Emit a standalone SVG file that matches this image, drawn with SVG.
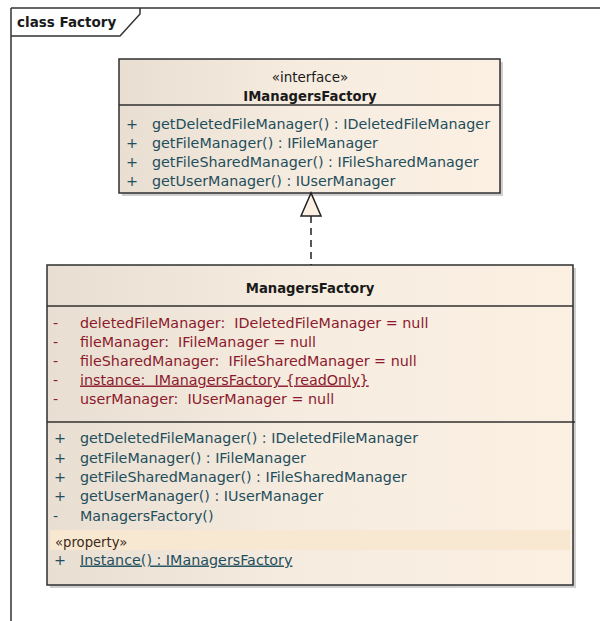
<svg xmlns="http://www.w3.org/2000/svg" width="600" height="621" viewBox="0 0 600 621">
<style>
text { font-family: "DejaVu Sans", "Liberation Sans", sans-serif; }
.frame { fill: none; stroke: #333333; stroke-width: 1.5; }
.box { stroke: #2f2f2f; stroke-width: 1.5; }
.div { stroke: #2f2f2f; stroke-width: 1.5; }
.shadow { fill: #cfcfcf; }
.title { font-size: 13.2px; font-weight: bold; fill: #1a1a1a; text-anchor: middle; }
.stereo { font-size: 13.5px; fill: #1a1a1a; text-anchor: middle; }
.op { font-size: 14.3px; fill: #1f4e5c; }
.attr { font-size: 14.3px; fill: #8c1a2c; }
.prop { font-size: 13.2px; fill: #3a2a1a; }
.conn { stroke: #222; stroke-width: 1.5; fill: none; }
</style>
<defs>
<linearGradient id="fillGrad" x1="0" y1="0" x2="1" y2="0">
<stop offset="0" stop-color="#e8dfd2"/>
<stop offset="0.5" stop-color="#f6ece0"/>
<stop offset="1" stop-color="#fbf0e2"/>
</linearGradient>
</defs>
<rect x="0" y="0" width="600" height="621" fill="#ffffff"/>
<g id="frame">
<line x1="11" y1="8" x2="600" y2="8" class="frame"/>
<line x1="11" y1="8" x2="11" y2="621" class="frame"/>
<path d="M11,36 L120,36 L140,14 L140,8" class="frame"/>
<text x="17" y="27" style="font-size:13.5px;font-weight:bold;fill:#1a1a1a">class Factory</text>
</g>
<g id="IManagersFactory">
<rect x="122" y="62" width="381" height="134" class="shadow"/>
<rect x="119" y="59" width="381" height="134" fill="url(#fillGrad)" class="box"/>
<line x1="119" y1="105" x2="500" y2="105" class="div"/>
<text x="310" y="82" class="stereo">«interface»</text>
<text x="310" y="101" class="title">IManagersFactory</text>
<text x="126" y="128.5" class="op">+</text>
<text x="152" y="128.5" class="op">getDeletedFileManager() : IDeletedFileManager</text>
<text x="126" y="147.8" class="op">+</text>
<text x="152" y="147.8" class="op">getFileManager() : IFileManager</text>
<text x="126" y="167" class="op">+</text>
<text x="152" y="167" class="op">getFileSharedManager() : IFileSharedManager</text>
<text x="126" y="186.3" class="op">+</text>
<text x="152" y="186.3" class="op">getUserManager() : IUserManager</text>
</g>
<g id="ManagersFactory">
<rect x="50" y="268" width="526" height="320" class="shadow"/>
<rect x="47" y="265" width="526" height="320" fill="url(#fillGrad)" class="box"/>
<line x1="47" y1="306" x2="573" y2="306" class="div"/>
<line x1="47" y1="422" x2="575" y2="422" class="div"/>
<text x="310" y="293" class="title">ManagersFactory</text>
<text x="53" y="327.5" class="attr">-</text>
<text x="80" y="327.5" class="attr">deletedFileManager:&#160; IDeletedFileManager = null</text>
<text x="53" y="346.5" class="attr">-</text>
<text x="80" y="346.5" class="attr">fileManager:&#160; IFileManager = null</text>
<text x="53" y="365.5" class="attr">-</text>
<text x="80" y="365.5" class="attr">fileSharedManager:&#160; IFileSharedManager = null</text>
<text x="53" y="384.5" class="attr">-</text>
<text x="80" y="384.5" class="attr" text-decoration="underline">instance:&#160; IManagersFactory {readOnly}</text>
<text x="53" y="403.5" class="attr">-</text>
<text x="80" y="403.5" class="attr">userManager:&#160; IUserManager = null</text>
<text x="54" y="443" class="op">+</text>
<text x="80" y="443" class="op">getDeletedFileManager() : IDeletedFileManager</text>
<text x="54" y="462.5" class="op">+</text>
<text x="80" y="462.5" class="op">getFileManager() : IFileManager</text>
<text x="54" y="482" class="op">+</text>
<text x="80" y="482" class="op">getFileSharedManager() : IFileSharedManager</text>
<text x="54" y="501" class="op">+</text>
<text x="80" y="501" class="op">getUserManager() : IUserManager</text>
<text x="53" y="521" class="op">-</text>
<text x="80" y="521" class="op">ManagersFactory()</text>
<rect x="50" y="530" width="520" height="20" fill="#f8e8d2"/>
<text x="55" y="546.5" class="prop">«property»</text>
<text x="54" y="564.5" class="op">+</text>
<text x="80" y="564.5" class="op" text-decoration="underline">Instance() : IManagersFactory</text>
</g>
<g id="connectors">
<line x1="311" y1="216" x2="311" y2="265" class="conn" stroke-dasharray="7,5"/>
<polygon points="311,193 301,216 321,216" fill="#fbf0e2" stroke="#222" stroke-width="1.5"/>
</g>
</svg>
